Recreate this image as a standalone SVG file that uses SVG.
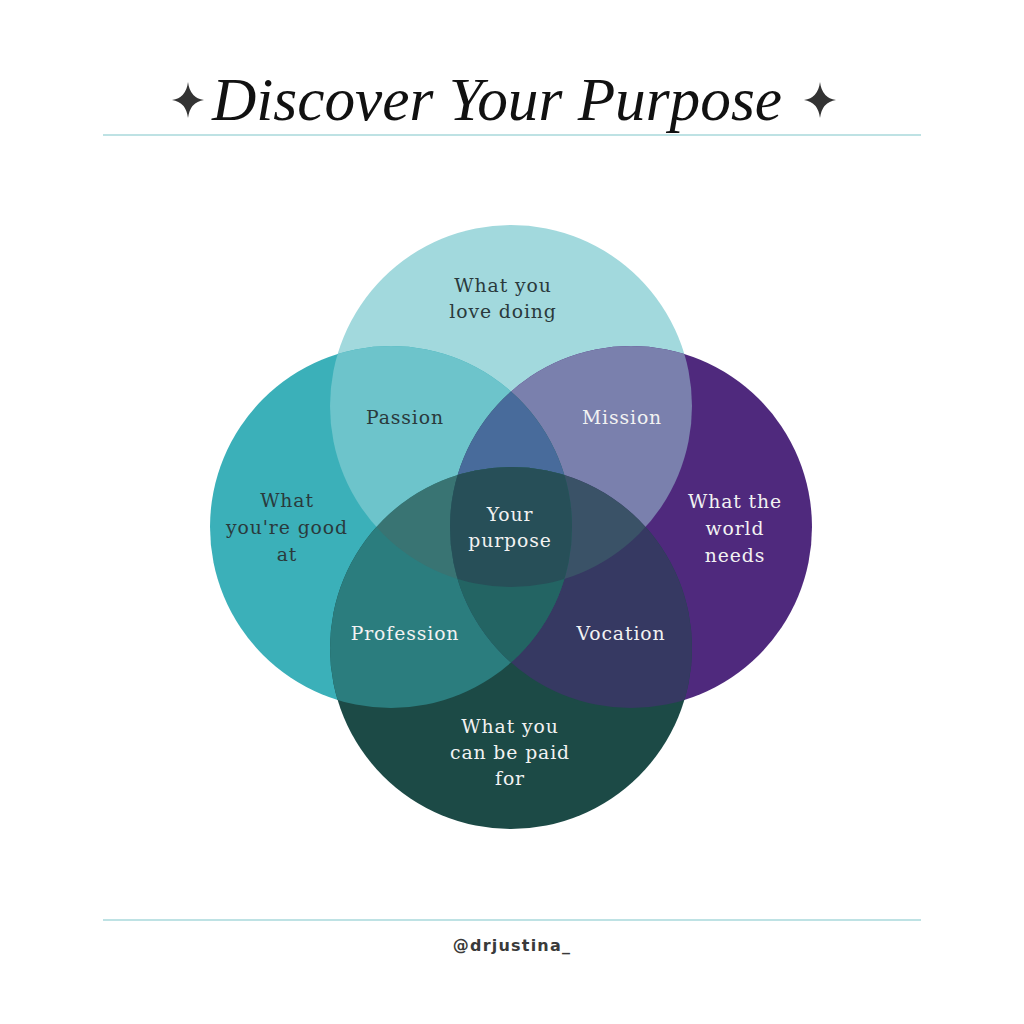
<svg xmlns="http://www.w3.org/2000/svg" width="1024" height="1024" viewBox="0 0 1024 1024">
<defs>
<style>
.lbl{font-family:"DejaVu Serif","Liberation Serif",serif;font-size:18.8px;letter-spacing:0.9px;text-anchor:middle}
.dk{fill:#2a3a3c}
.lt{fill:#f2f2f2}
.rule{stroke:#a9d9db;stroke-width:1.5}
.star{fill:#333333}
</style>
<clipPath id="cT"><circle cx="511" cy="406" r="181"/></clipPath>
<clipPath id="cL"><circle cx="391" cy="527" r="181"/></clipPath>
<clipPath id="cR"><circle cx="631" cy="527" r="181"/></clipPath>
<clipPath id="cB"><circle cx="511" cy="648" r="181"/></clipPath>
</defs>
<rect width="1024" height="1024" fill="#ffffff"/>

<g id="header">
<path class="star" d="M188,82 Q190,98 204,100 Q190,102 188,118 Q186,102 172,100 Q186,98 188,82 Z"/>
<path class="star" d="M820,82 Q822,98 836,100 Q822,102 820,118 Q818,102 804,100 Q818,98 820,82 Z"/>
<text x="497" y="120" font-family="Liberation Serif, serif" font-style="italic" font-size="62" fill="#111111" text-anchor="middle" textLength="570" lengthAdjust="spacingAndGlyphs">Discover Your Purpose</text>
<line class="rule" x1="103" y1="135" x2="921" y2="135"/>
</g>

<g id="venn">
<g id="circle-top"><circle cx="511" cy="406" r="181" fill="#a2d9dd"/></g>
<g id="circle-left"><circle cx="391" cy="527" r="181" fill="#3bb0b9"/></g>
<g id="circle-right"><circle cx="631" cy="527" r="181" fill="#4f297d"/></g>
<g id="circle-bottom"><circle cx="511" cy="648" r="181" fill="#1c4a46"/></g>
<g id="passion-area" clip-path="url(#cT)"><circle cx="391" cy="527" r="181" fill="#6dc4cb"/></g>
<g id="mission-area" clip-path="url(#cT)"><circle cx="631" cy="527" r="181" fill="#7a80ad"/></g>
<g id="profession-area" clip-path="url(#cB)"><circle cx="391" cy="527" r="181" fill="#2b7d7e"/></g>
<g id="vocation-area" clip-path="url(#cB)"><circle cx="631" cy="527" r="181" fill="#363962"/></g>
<g clip-path="url(#cL)"><circle cx="631" cy="527" r="181" fill="#236463"/></g>
<g clip-path="url(#cT)"><g clip-path="url(#cL)"><circle cx="631" cy="527" r="181" fill="#486b9b"/></g></g>
<g clip-path="url(#cT)"><g clip-path="url(#cL)"><circle cx="511" cy="648" r="181" fill="#397473"/></g></g>
<g clip-path="url(#cT)"><g clip-path="url(#cR)"><circle cx="511" cy="648" r="181" fill="#3a5267"/></g></g>
<g clip-path="url(#cL)"><g clip-path="url(#cR)"><circle cx="511" cy="648" r="181" fill="#236463"/></g></g>
<g id="purpose-area" clip-path="url(#cT)"><g clip-path="url(#cL)"><g clip-path="url(#cR)"><circle cx="511" cy="648" r="181" fill="#274f58"/></g></g></g>
</g>

<g id="labels">
<text class="lbl dk" x="503" y="292">What you</text>
<text class="lbl dk" x="503" y="318">love doing</text>
<text class="lbl dk" x="405" y="424">Passion</text>
<text class="lbl lt" x="622" y="424">Mission</text>
<text class="lbl dk" x="287" y="507">What</text>
<text class="lbl dk" x="287" y="534">you're good</text>
<text class="lbl dk" x="287" y="561">at</text>
<text class="lbl lt" x="735" y="508">What the</text>
<text class="lbl lt" x="735" y="535">world</text>
<text class="lbl lt" x="735" y="562">needs</text>
<text class="lbl lt" x="510" y="521">Your</text>
<text class="lbl lt" x="510" y="547">purpose</text>
<text class="lbl lt" x="405" y="640">Profession</text>
<text class="lbl lt" x="621" y="640">Vocation</text>
<text class="lbl lt" x="510" y="733">What you</text>
<text class="lbl lt" x="510" y="759">can be paid</text>
<text class="lbl lt" x="510" y="785">for</text>
</g>

<g id="footer">
<line class="rule" x1="103" y1="920" x2="921" y2="920"/>
<text x="512" y="951" font-family="DejaVu Sans, sans-serif" font-size="16" font-weight="600" letter-spacing="1.2" fill="#3a3a3a" text-anchor="middle">@drjustina_</text>
</g>
</svg>
